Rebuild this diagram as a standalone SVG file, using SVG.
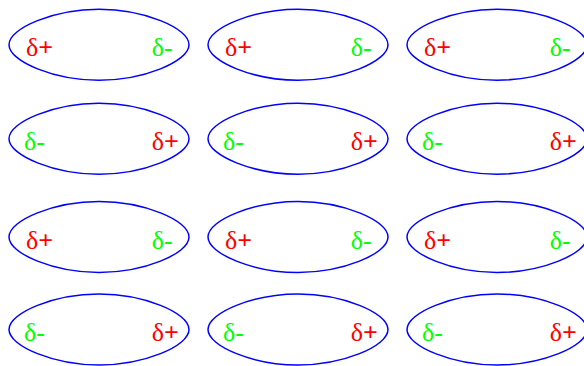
<svg xmlns="http://www.w3.org/2000/svg" width="584" height="366" viewBox="0 0 584 366">
<defs>
<style>
.shape{fill:none;stroke:#0000ff;stroke-width:1.5}
.pos{fill:#ff0000;font-family:"Liberation Serif",serif;font-size:26px}
.neg{fill:#00ff00;font-family:"Liberation Serif",serif;font-size:26px}
.b{font-weight:bold}
</style>
<path id="lens" class="shape" d="M-90,0 C-90,-17 -44,-35.5 0,-35.5 C44,-35.5 90,-17 90,0 C90,17 44,35.5 0,35.5 C-44,35.5 -90,17 -90,0 Z"/>
</defs>
<rect width="584" height="366" fill="#ffffff"/>
<g id="n1" transform="translate(99,44.7)"><use href="#lens"/><text class="pos" x="-73" y="11.5">δ<tspan class="b">+</tspan></text><text class="neg" x="52.7" y="11.5">δ-</text></g>
<g id="n2" transform="translate(298,44.7)"><use href="#lens"/><text class="pos" x="-73" y="11.5">δ<tspan class="b">+</tspan></text><text class="neg" x="52.7" y="11.5">δ-</text></g>
<g id="n3" transform="translate(497,44.7)"><use href="#lens"/><text class="pos" x="-73" y="11.5">δ<tspan class="b">+</tspan></text><text class="neg" x="52.7" y="11.5">δ-</text></g>
<g id="n4" transform="translate(99,138.7)"><use href="#lens"/><text class="neg" x="-75" y="11.5">δ-</text><text class="pos" x="52.7" y="11.5">δ<tspan class="b">+</tspan></text></g>
<g id="n5" transform="translate(298,138.7)"><use href="#lens"/><text class="neg" x="-75" y="11.5">δ-</text><text class="pos" x="52.7" y="11.5">δ<tspan class="b">+</tspan></text></g>
<g id="n6" transform="translate(497,138.7)"><use href="#lens"/><text class="neg" x="-75" y="11.5">δ-</text><text class="pos" x="52.7" y="11.5">δ<tspan class="b">+</tspan></text></g>
<g id="n7" transform="translate(99,237)"><use href="#lens"/><text class="pos" x="-73" y="11.5">δ<tspan class="b">+</tspan></text><text class="neg" x="52.7" y="11.5">δ-</text></g>
<g id="n8" transform="translate(298,237)"><use href="#lens"/><text class="pos" x="-73" y="11.5">δ<tspan class="b">+</tspan></text><text class="neg" x="52.7" y="11.5">δ-</text></g>
<g id="n9" transform="translate(497,237)"><use href="#lens"/><text class="pos" x="-73" y="11.5">δ<tspan class="b">+</tspan></text><text class="neg" x="52.7" y="11.5">δ-</text></g>
<g id="n10" transform="translate(99,329.5)"><use href="#lens"/><text class="neg" x="-75" y="11.5">δ-</text><text class="pos" x="52.7" y="11.5">δ<tspan class="b">+</tspan></text></g>
<g id="n11" transform="translate(298,329.5)"><use href="#lens"/><text class="neg" x="-75" y="11.5">δ-</text><text class="pos" x="52.7" y="11.5">δ<tspan class="b">+</tspan></text></g>
<g id="n12" transform="translate(497,329.5)"><use href="#lens"/><text class="neg" x="-75" y="11.5">δ-</text><text class="pos" x="52.7" y="11.5">δ<tspan class="b">+</tspan></text></g>
<g id="connectors"/>
</svg>
